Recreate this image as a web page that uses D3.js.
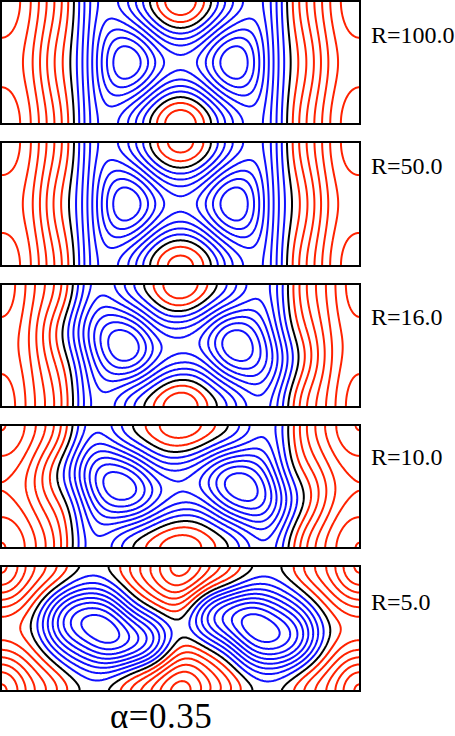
<!DOCTYPE html>
<html>
<head>
<meta charset="utf-8">
<script src="https://cdn.jsdelivr.net/npm/d3@7"></script>
<style>
  body { margin: 0; background: #fff; }
</style>
</head>
<body>
<svg id="chart" width="455" height="736"></svg>
<script>
// panel labels, top to bottom
const reynolds = ["R=100.0", "R=50.0", "R=16.0", "R=10.0", "R=5.0"];
const alphaLabel = "\u03b1=0.35";

// field, in contour steps, as [x from panel centre (0..0.5), value]
// middle row of each panel
const midRow100 = [[0,-4.4],[0.055,-5],[0.07,-6],[0.088,-7],[0.106,-8],[0.15,-8.6],[0.194,-8],[0.217,-6],[0.245,-4],[0.275,-2],[0.305,0],[0.353,2],[0.389,4],[0.442,6],[0.5,6.7]];
const midRow50  = [[0,-4.4],[0.055,-5],[0.07,-6],[0.088,-7],[0.106,-8],[0.15,-8.6],[0.194,-8],[0.217,-6],[0.245,-4],[0.275,-2],[0.31,0],[0.355,2],[0.39,4],[0.442,6],[0.5,6.6]];
const midRow16  = [[0,-4.4],[0.06,-5],[0.08,-6],[0.095,-7],[0.11,-8],[0.162,-8.6],[0.21,-8],[0.235,-6],[0.265,-4],[0.295,-2],[0.327,0],[0.361,2],[0.4,4],[0.458,6],[0.5,6.6]];
const midRow10  = [[0,-4.2],[0.06,-5],[0.08,-6],[0.1,-7],[0.12,-8],[0.167,-8.6],[0.222,-8],[0.245,-6],[0.275,-4],[0.305,-2],[0.34,0],[0.38,2],[0.42,3.5],[0.5,5]];
const midRow5   = [[0,-0.5],[0.032,-1],[0.065,-3],[0.111,-5],[0.157,-7],[0.171,-8],[0.225,-8.7],[0.278,-8],[0.3,-7],[0.338,-5],[0.37,-3],[0.398,-1],[0.417,0],[0.444,1],[0.5,1.5]];

// top (and bottom) edge of each panel
const topRow100 = [[0,3.1],[0.035,2],[0.063,1],[0.092,0],[0.12,-2],[0.148,-3],[0.19,-4.4],[0.227,-4],[0.25,-3],[0.269,-2],[0.283,-1],[0.297,0],[0.328,2],[0.375,4],[0.417,6],[0.444,7],[0.5,7.6]];
const topRow50  = [[0,2.6],[0.03,2],[0.06,1],[0.09,0],[0.12,-2],[0.148,-3],[0.19,-4.4],[0.227,-4],[0.25,-3],[0.269,-2],[0.283,-1],[0.297,0],[0.328,2],[0.375,4],[0.417,6],[0.444,7],[0.5,7.5]];
const topRow16  = [[0,3.1],[0.04,2],[0.075,1],[0.106,0],[0.13,-1],[0.15,-2],[0.2,-3.3],[0.25,-3],[0.27,-2],[0.285,-1],[0.3,0],[0.33,2],[0.38,4],[0.43,6],[0.5,7.6]];
const topRow10  = [[0,2.8],[0.05,2],[0.1,1],[0.135,0],[0.16,-1],[0.19,-2],[0.23,-2.5],[0.27,-2],[0.285,-1],[0.3,0],[0.33,2],[0.38,4],[0.43,6],[0.5,7]];
const topRow5   = [[0,6.4],[0.028,6],[0.056,5],[0.083,4],[0.111,3],[0.139,2],[0.167,1],[0.204,0],[0.24,-0.6],[0.278,0],[0.315,1],[0.347,2],[0.375,3],[0.403,4],[0.431,5],[0.458,6],[0.486,7],[0.5,7.3]];

// distance of each vortex centre from the panel centre, and how much the cells lean
const vortexOffset = [0.15, 0.15, 0.162, 0.167, 0.225];
const tilt = [0, 0, 0.9, 1.3, 2.3];

// contour values (0 is the black separatrix)
const levels = d3.range(-8, 11);

const midRows = [midRow100, midRow50, midRow16, midRow10, midRow5];
const topRows = [topRow100, topRow50, topRow16, topRow10, topRow5];

// panel frames
const panelLeft = 1, panelRight = 360;
const panelTops = [1, 142, 284, 425, 566];
const panelBottoms = [124, 266, 407, 548, 691];
const labelBaselines = [43, 174, 325, 465, 610];
const serif = "Liberation Serif, Times New Roman, serif";

const svg = d3.select("#chart");

// least squares fit of an even profile with cosine modes
function fitProfile(points, K) {
  const M = d3.range(K).map(() => new Array(K).fill(0));
  const r = new Array(K).fill(0);
  points.forEach(([x, v]) => {
    const phi = d3.range(K).map(k => Math.cos(2 * Math.PI * k * x));
    for (let i = 0; i < K; i++) {
      r[i] += phi[i] * v;
      for (let j = 0; j < K; j++) M[i][j] += phi[i] * phi[j];
    }
  });
  for (let k = 0; k < K; k++) M[k][k] += 2e-5 * Math.pow(k, 4);
  // gaussian elimination
  for (let i = 0; i < K; i++) {
    let p = i;
    for (let j = i + 1; j < K; j++) if (Math.abs(M[j][i]) > Math.abs(M[p][i])) p = j;
    [M[i], M[p]] = [M[p], M[i]];
    [r[i], r[p]] = [r[p], r[i]];
    for (let j = i + 1; j < K; j++) {
      const f = M[j][i] / M[i][i];
      for (let k = i; k < K; k++) M[j][k] -= f * M[i][k];
      r[j] -= f * r[i];
    }
  }
  const c = new Array(K).fill(0);
  for (let i = K - 1; i >= 0; i--) {
    let s = r[i];
    for (let k = i + 1; k < K; k++) s -= M[i][k] * c[k];
    c[i] = s / M[i][i];
  }
  return x => d3.sum(c, (ck, k) => ck * Math.cos(2 * Math.PI * k * x));
}

const colour = v => v > 0 ? "#ff2200" : v < 0 ? "#1010ff" : "#000";

reynolds.forEach((label, p) => {
  const x0 = panelLeft, x1 = panelRight, y0 = panelTops[p], y1 = panelBottoms[p];
  const nx = 360, ny = 126;
  const mid = fitProfile(midRows[p], 9);
  const top = fitProfile(topRows[p], 9);
  const t = tilt[p];
  // lean shape: zero at the vortex centres (they stay on the middle row), fading towards the side edges
  const a = 2 * Math.cos(2 * Math.PI * vortexOffset[p]);
  const leanX = xp => (Math.sin(4 * Math.PI * xp) - a * Math.sin(2 * Math.PI * xp))
    * (1 + Math.cos(2 * Math.PI * xp)) / 2;

  const values = new Array(nx * ny);
  for (let j = 0; j < ny; j++) {
    const eta = (j + 0.5) / ny - 0.5;
    const leanY = Math.sin(2 * Math.PI * eta) + 0.3 * Math.sin(4 * Math.PI * eta);
    for (let i = 0; i < nx; i++) {
      const xp = (i + 0.5) / nx - 0.5;
      const f0 = mid(xp), f1 = top(xp);
      values[j * nx + i] = (f0 + f1) / 2 + (f0 - f1) / 2 * Math.cos(2 * Math.PI * eta)
        + t * leanX(xp) * leanY;
    }
  }

  const contours = d3.contours().size([nx, ny]).thresholds(levels)(values);

  const xs = d3.scaleLinear().domain([0, nx]).range([x0, x1]);
  const ys = d3.scaleLinear().domain([0, ny]).range([y0, y1]);
  const proj = d3.geoTransform({
    point: function (x, y) { this.stream.point(xs(x), ys(y)); }
  });
  const path = d3.geoPath(proj);

  svg.append("clipPath").attr("id", "clip" + p)
    .append("rect").attr("x", x0).attr("y", y0).attr("width", x1 - x0).attr("height", y1 - y0);

  svg.append("g").attr("clip-path", `url(#clip${p})`)
    .selectAll("path")
    .data(contours)
    .join("path")
    .attr("d", path)
    .attr("fill", "none")
    .attr("stroke", d => colour(d.value))
    .attr("stroke-width", 2)
    .attr("stroke-linejoin", "round");

  svg.append("rect")
    .attr("x", x0).attr("y", y0).attr("width", x1 - x0).attr("height", y1 - y0)
    .attr("fill", "none").attr("stroke", "#000").attr("stroke-width", 2);

  svg.append("text")
    .attr("x", 371).attr("y", labelBaselines[p])
    .style("font-family", serif)
    .style("font-size", "24px")
    .text(label);
});

svg.append("text")
  .attr("x", 110).attr("y", 728)
  .style("font-family", serif)
  .style("font-size", "35px")
  .style("letter-spacing", "0.5px")
  .text(alphaLabel);
</script>
</body>
</html>
